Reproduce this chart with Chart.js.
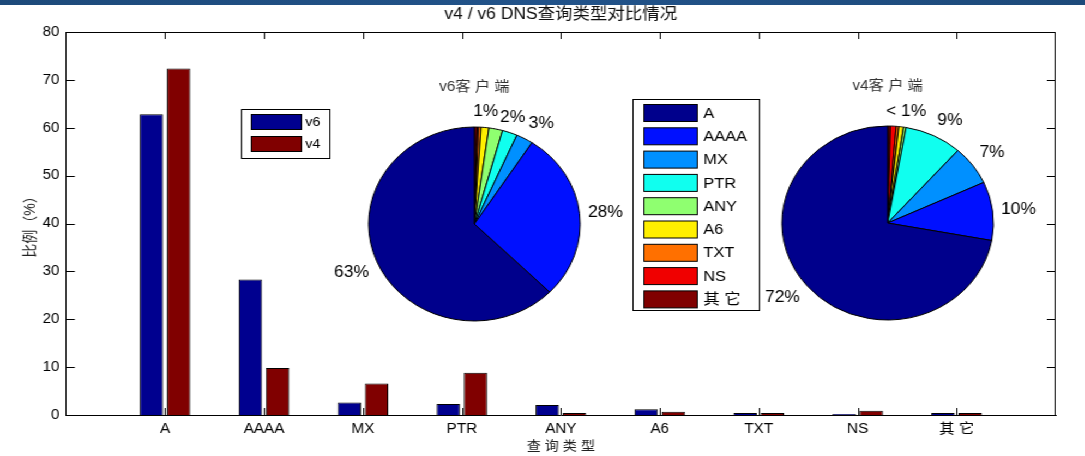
<!DOCTYPE html>
<html>
<head>
<meta charset="utf-8">
<script src="https://cdn.jsdelivr.net/npm/chart.js@4.4.0/dist/chart.umd.min.js"></script>
<style>
body { margin: 0; background: #fff; overflow: hidden; }
#wrap { position: absolute; left: 0; top: 0; width: 995px; height: 456px; transform: scaleX(1.0905); transform-origin: 0 0; }
#wrap canvas { position: absolute; }
#topbar { position: absolute; left: 0; top: 0; width: 1085px; height: 5px; background: linear-gradient(90deg, #1d4a7a, #22538a 50%, #1d4a7a); }
</style>
</head>
<body>
<div id="wrap">
  <canvas id="bar-chart" width="995" height="456" style="left:0;top:0"></canvas>
  <canvas id="pie-v6" width="320" height="300" style="left:275px;top:73.5px"></canvas>
  <canvas id="pie-v4" width="320" height="300" style="left:654px;top:73px"></canvas>
</div>
<div id="topbar"></div>
<script>
// data
var categories = ['A', 'AAAA', 'MX', 'PTR', 'ANY', 'A6', 'TXT', 'NS', '其 它'];
var v6Values = [62.8, 28.3, 2.6, 2.3, 2.1, 1.2, 0.4, 0.2, 0.4];
var v4Values = [72.4, 9.8, 6.6, 8.8, 0.4, 0.7, 0.4, 0.9, 0.4];
var v6PieLabels = ['63%', '28%', '3%', '2%', '', '1%', '', '', ''];
var v4PieLabels = ['72%', '10%', '7%', '9%', '< 1%', '', '', '', ''];
var seriesNames = ['v6', 'v4'];

var seriesColors = ['#00008F', '#800000'];
var pieColors = ['#00008C', '#0010FF', '#0090FF', '#10FFEF', '#8FFF70', '#FFEF00', '#FF7000', '#F00000', '#800000'];
var fontFamily = "'Liberation Sans', Arial, 'Noto Sans CJK SC', sans-serif";

Chart.defaults.font.family = fontFamily;
Chart.defaults.color = '#000';

function pad(arr) {
    return [null].concat(arr).concat([null]);
}

// box + inward ticks like the original figure
var framePlugin = {
    id: 'frame',
    beforeDatasetsDraw: function (chart) {
        var ctx = chart.ctx, a = chart.chartArea;
        var xs = chart.scales.x, ys = chart.scales.y;
        ctx.save();
        ctx.strokeStyle = '#000';
        ctx.lineWidth = 1;
        ctx.beginPath();
        ctx.moveTo(a.left, a.top + 0.5); ctx.lineTo(a.right, a.top + 0.5);
        ctx.moveTo(a.right - 0.5, a.top); ctx.lineTo(a.right - 0.5, a.bottom);
        ys.ticks.forEach(function (t) {
            var y = Math.round(ys.getPixelForValue(t.value)) + 0.5;
            ctx.moveTo(a.left, y); ctx.lineTo(a.left + 8, y);
            ctx.moveTo(a.right, y); ctx.lineTo(a.right - 8, y);
        });
        for (var i = 1; i <= categories.length; i++) {
            var x = Math.round(xs.getPixelForTick(i)) + 0.5;
            ctx.moveTo(x, a.top); ctx.lineTo(x, a.top + 7);
            ctx.moveTo(x, a.bottom); ctx.lineTo(x, a.bottom - 7);
        }
        ctx.stroke();
        ctx.restore();
    }
};

// title + both legends
var legendPlugin = {
    id: 'legends',
    afterDraw: function (chart) {
        var ctx = chart.ctx, a = chart.chartArea;
        ctx.save();
        ctx.fillStyle = '#111';
        ctx.font = '16px ' + fontFamily;
        ctx.textAlign = 'center';
        ctx.textBaseline = 'middle';
        ctx.fillText('v4 / v6 DNS查询类型对比情况', (a.left + a.right) / 2, 15);

        // bar legend
        ctx.fillStyle = '#fff';
        ctx.fillRect(221.5, 109.5, 81, 49);
        ctx.strokeStyle = '#000';
        ctx.lineWidth = 1;
        ctx.strokeRect(221.5, 109.5, 81, 49);
        ctx.font = '13px ' + fontFamily;
        ctx.textAlign = 'left';
        seriesNames.forEach(function (name, i) {
            var y = 114.5 + i * 22;
            ctx.fillStyle = seriesColors[i];
            ctx.fillRect(230.5, y, 46, 15);
            ctx.strokeRect(230.5, y, 46, 15);
            ctx.fillStyle = '#000';
            ctx.fillText(name, 280, y + 8);
        });

        // pie legend
        ctx.fillStyle = '#fff';
        ctx.fillRect(580.5, 99.5, 116, 211);
        ctx.strokeRect(580.5, 99.5, 116, 211);
        ctx.font = '15px ' + fontFamily;
        categories.forEach(function (name, i) {
            var y = 104.5 + i * 23.3;
            ctx.fillStyle = pieColors[i];
            ctx.fillRect(590.5, y, 49, 17);
            ctx.strokeRect(590.5, y, 49, 17);
            ctx.fillStyle = '#000';
            ctx.fillText(name, 645, y + 9);
        });
        ctx.restore();
    }
};

new Chart(document.getElementById('bar-chart'), {
    type: 'bar',
    data: {
        labels: pad(categories).map(function (c) { return c || ''; }),
        datasets: seriesNames.map(function (name, i) {
            return {
                label: name,
                data: pad(i === 0 ? v6Values : v4Values),
                backgroundColor: seriesColors[i],
                borderColor: '#000',
                borderWidth: 1,
                categoryPercentage: 0.55,
                barPercentage: 0.86
            };
        })
    },
    options: {
        responsive: false,
        animation: false,
        layout: { padding: { top: 32, right: 27, left: 16, bottom: 0 } },
        plugins: { legend: { display: false }, tooltip: { enabled: false } },
        scales: {
            x: {
                offset: false,
                grid: { display: false, drawTicks: false },
                border: { color: '#000', width: 1 },
                ticks: { font: { size: 14 }, padding: 6, autoSkip: false, maxRotation: 0 },
                title: { display: true, text: '查 询 类 型', font: { size: 13 }, color: '#222', padding: { top: 0, bottom: 2 } },
                afterFit: function (s) { s.height = 41; }
            },
            y: {
                min: 0,
                max: 80,
                grid: { display: false, drawTicks: false },
                border: { color: '#000', width: 1 },
                ticks: { stepSize: 10, font: { size: 14 }, padding: 6 },
                title: { display: true, text: '比例（%）', font: { size: 14 }, color: '#222', padding: { top: 4, bottom: 0 } },
                afterFit: function (s) { s.width = 44.6; }
            }
        }
    },
    plugins: [framePlugin, legendPlugin]
});

function pieText(labels, title) {
    return {
        id: 'pieText',
        afterDraw: function (chart) {
            var ctx = chart.ctx;
            var arcs = chart.getDatasetMeta(0).data;
            ctx.save();
            ctx.fillStyle = '#000';
            ctx.font = '16px ' + fontFamily;
            arcs.forEach(function (arc, i) {
                if (!labels[i]) return;
                var mid = (arc.startAngle + arc.endAngle) / 2;
                var r = arc.outerRadius * 1.08;
                var c = Math.cos(mid), s = Math.sin(mid);
                ctx.textAlign = c > 0.4 ? 'left' : (c < -0.4 ? 'right' : 'center');
                ctx.textBaseline = s < -0.3 ? 'bottom' : (s > 0.3 ? 'top' : 'middle');
                ctx.fillText(labels[i], arc.x + c * r, arc.y + s * r);
            });
            ctx.font = '14px ' + fontFamily;
            ctx.fillStyle = '#333';
            ctx.textAlign = 'center';
            ctx.textBaseline = 'middle';
            ctx.fillText(title, arcs[0].x, 13.5);
            ctx.restore();
        }
    };
}

function makePie(id, values, labels, title) {
    // matlab goes counter-clockwise, so feed the slices reversed
    new Chart(document.getElementById(id), {
        type: 'pie',
        data: {
            labels: categories.slice().reverse(),
            datasets: [{
                data: values.slice().reverse(),
                backgroundColor: pieColors.slice().reverse(),
                borderColor: '#000',
                borderWidth: 1
            }]
        },
        options: {
            responsive: false,
            animation: false,
            layout: { padding: { left: 62.5, right: 62.5, top: 52.5, bottom: 52.5 } },
            plugins: { legend: { display: false }, tooltip: { enabled: false } }
        },
        plugins: [pieText(labels.slice().reverse(), title)]
    });
}

makePie('pie-v6', v6Values, v6PieLabels, 'v6客 户 端');
makePie('pie-v4', v4Values, v4PieLabels, 'v4客 户 端');
</script>
</body>
</html>
